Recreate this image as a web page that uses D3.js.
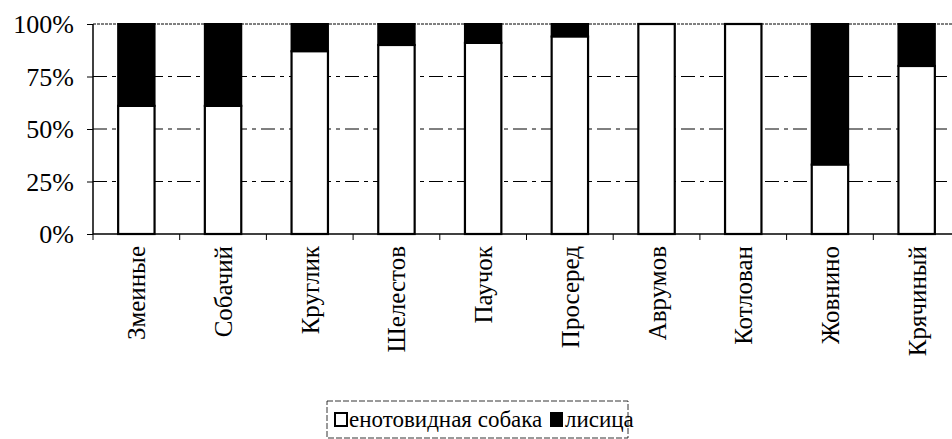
<!DOCTYPE html>
<html>
<head>
<meta charset="utf-8">
<script src="https://cdn.jsdelivr.net/npm/d3@7"></script>
<style>
  body { margin: 0; background: #fff; }
</style>
</head>
<body>
<script>
var categories = ["Змеиные", "Собачий", "Круглик", "Шелестов", "Паучок", "Просеред", "Аврумов", "Котлован", "Жовнино", "Крячиный"];
var raccoonDog = [61, 61, 87, 90, 91, 94, 100, 100, 33, 80];
var fox = [39, 39, 13, 10, 9, 6, 0, 0, 67, 20];
var seriesNames = ["енотовидная собака", "лисица"];
var yTicks = [0, 25, 50, 75, 100];

(function () {
  var width = 952, height = 439;
  var plotLeft = 93, plotTop = 24, plotBottom = 234, step = 86.7;
  var serif = "'Liberation Serif'";

  var svg = d3.select("body").append("svg")
    .attr("width", width)
    .attr("height", height);

  var x = d3.scaleBand()
    .domain(categories)
    .range([plotLeft, plotLeft + step * categories.length])
    .paddingInner(0.58)
    .paddingOuter(0.29);

  var y = d3.scaleLinear().domain([0, 100]).range([plotBottom, plotTop]);

  // grid
  svg.selectAll("line.grid")
    .data(yTicks.filter(function (d) { return d > 0; }))
    .enter().append("line")
    .attr("class", "grid")
    .attr("x1", plotLeft).attr("x2", width)
    .attr("y1", function (d) { return y(d); })
    .attr("y2", function (d) { return y(d); })
    .attr("stroke", "#000")
    .attr("stroke-width", 1)
    .attr("stroke-dasharray", function (d) { return d == 100 ? "3,1" : "14,5,4,5"; });

  var rows = categories.map(function (c, i) { return { cat: c, a: raccoonDog[i], b: fox[i] }; });

  // fox (top, black)
  svg.selectAll("rect.fox")
    .data(rows)
    .enter().append("rect")
    .attr("class", "fox")
    .attr("x", function (d) { return x(d.cat); })
    .attr("width", x.bandwidth())
    .attr("y", function (d) { return y(d.a + d.b); })
    .attr("height", function (d) { return y(d.a) - y(d.a + d.b); })
    .attr("fill", "#000")
    .attr("stroke", "#000")
    .attr("stroke-width", 2);

  // raccoon dog (bottom, white)
  svg.selectAll("rect.dog")
    .data(rows)
    .enter().append("rect")
    .attr("class", "dog")
    .attr("x", function (d) { return x(d.cat); })
    .attr("width", x.bandwidth())
    .attr("y", function (d) { return y(d.a); })
    .attr("height", function (d) { return y(0) - y(d.a); })
    .attr("fill", "#fff")
    .attr("stroke", "#000")
    .attr("stroke-width", 2.2);

  // y axis
  var yAxis = svg.append("g")
    .attr("transform", "translate(" + plotLeft + ",0)")
    .call(d3.axisLeft(y).tickValues(yTicks).tickSize(6).tickPadding(13)
      .tickFormat(function (d) { return d + "%"; }));
  yAxis.attr("font-family", null);
  yAxis.select(".domain").attr("stroke-width", 1.5).attr("d", "M0," + plotBottom + "V" + plotTop);
  yAxis.selectAll("text")
    .attr("font-size", 26)
    .style("font-family", serif)
    .attr("fill", "#000")
    .attr("dy", "0.34em");

  // x axis
  svg.append("line")
    .attr("x1", plotLeft).attr("x2", width)
    .attr("y1", plotBottom).attr("y2", plotBottom)
    .attr("stroke", "#000").attr("stroke-width", 1.5);

  svg.selectAll("line.xtick")
    .data(categories)
    .enter().append("line")
    .attr("class", "xtick")
    .attr("x1", function (d) { return x(d) - x.step() * 0.29; })
    .attr("x2", function (d) { return x(d) - x.step() * 0.29; })
    .attr("y1", plotBottom).attr("y2", plotBottom + 6)
    .attr("stroke", "#000");

  svg.selectAll("text.xlab")
    .data(categories)
    .enter().append("text")
    .attr("class", "xlab")
    .attr("transform", function (d) {
      return "translate(" + (x(d) + x.bandwidth() / 2 + 9) + "," + (plotBottom + 12) + ") rotate(-90)";
    })
    .attr("text-anchor", "end")
    .attr("font-size", 25)
    .style("font-family", serif)
    .text(function (d) { return d; });

  // legend
  var leg = svg.append("g").attr("transform", "translate(327,401)");
  leg.append("rect")
    .attr("x", 0).attr("y", 0).attr("width", 301).attr("height", 37)
    .attr("fill", "none").attr("stroke", "#000").attr("stroke-width", 0.8)
    .attr("stroke-dasharray", "6,2");
  leg.append("rect").attr("x", 8).attr("y", 12).attr("width", 12).attr("height", 13)
    .attr("fill", "#fff").attr("stroke", "#000").attr("stroke-width", 2);
  leg.append("text").attr("x", 22).attr("y", 26).attr("font-size", 23)
    .style("font-family", serif).text(seriesNames[0]);
  leg.append("rect").attr("x", 223).attr("y", 11).attr("width", 13).attr("height", 15)
    .attr("fill", "#000");
  leg.append("text").attr("x", 238).attr("y", 26).attr("font-size", 23)
    .style("font-family", serif).text(seriesNames[1]);
})();
</script>
</body>
</html>
